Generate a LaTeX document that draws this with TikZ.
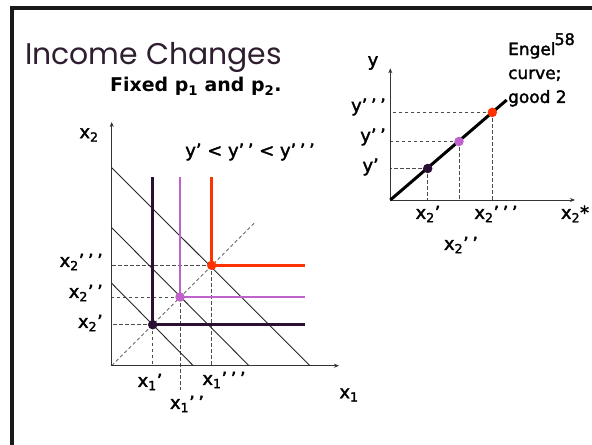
\documentclass[tikz,border=0pt]{standalone}
\usepackage{fontspec}
\setmainfont{DejaVu Sans}
\newfontfamily\titlefont{Poppins}
\newfontfamily\lblfont{DejaVu Sans}[FakeBold=2]
\usetikzlibrary{positioning,arrows.meta}
\definecolor{inkdark}{HTML}{2A1033}
\definecolor{inkpurple}{HTML}{BF62C9}
\definecolor{inkred}{HTML}{FF3300}
\definecolor{titleink}{HTML}{2E1E30}
\tikzset{
  axis/.style   = {-{Stealth[length=5bp,width=4bp]}, line width=0.8bp, draw=black!80},
  budget/.style = {line width=0.9bp, draw=black!85},
  guide/.style  = {dash pattern=on 3.5bp off 2.5bp, line width=0.7bp, draw=black!70},
  bundle/.style = {line width=2.6bp},
  dot/.style    = {circle, inner sep=0pt, minimum size=9.5bp},
  lbl/.style    = {font=\lblfont\fontsize{18}{20}\selectfont, inner sep=1bp},
}
\newcommand{\qx}[2]{x\textsubscript{#1}#2}
\newcommand{\pone}{’}
\newcommand{\ptwo}{’\kern3.5bp’}
\newcommand{\pthree}{’\kern3.5bp’\kern3.5bp’}

\begin{document}
\begin{tikzpicture}[x=1bp,y=-1bp]
  \useasboundingbox (0,0) rectangle (592,445);
  % slide frame and headings
  \draw[line width=3.5bp, draw=black!90] (12,445) -- (12,8) -- (592,8);
  \node[anchor=base west, inner sep=0, text=titleink,
        font=\titlefont\fontsize{30}{34}\selectfont] (title) at (25,65) {Income Changes};
  \node[anchor=base west, inner sep=0, font=\bfseries\fontsize{19}{21}\selectfont]
        (fixed) at (110,92) {Fixed p\textsubscript{1} and p\textsubscript{2}.};
  \node[anchor=base east, inner sep=0, font=\lblfont\fontsize{16}{18}\selectfont] (slideno) at (575,45) {58};

  % left panel
  \coordinate (O) at (111.7,365.7);
  \coordinate (A) at (152.7,324.7);
  \coordinate (B) at (180,297);
  \coordinate (C) at (211.7,265.3);
  \coordinate (Bdown) at (180,390);

  \draw[guide] (O) -- (255.7,221.7);
  \draw[guide] (A) -- (A |- O);  \draw[guide] (A) -- (A -| O);
  \draw[guide] (B) -- (Bdown);   \draw[guide] (B) -- (B -| O);
  \draw[guide] (C) -- (C |- O);  \draw[guide] (C) -- (C -| O);

  \draw[axis] (O) -- (111.7,122);
  \draw[axis] (O) -- (339,365.7);
  \draw[budget] (111.7,283.3) -- (193.3,365.7);
  \draw[budget] (111.7,227.7) -- (249,365.7);
  \draw[budget] (111.7,167.7) -- (310,365.7);

  \draw[bundle, inkdark]   (152.7,177.3) |- (305,324.7);
  \draw[bundle, inkpurple] (180,177.3) |- (305,297);
  \draw[bundle, inkred]    (211.7,177.3) |- (305,265.3);
  \node[dot, fill=inkdark]   (ptA) at (A) {};
  \node[dot, fill=inkpurple] (ptB) at (B) {};
  \node[dot, fill=inkred]    (ptC) at (C) {};

  \node[lbl] (lx2) at (89,135) {\qx{2}{}};
  \node[lbl] (order) at (250,152) {y\pone{} < y\ptwo{} < y\pthree};
  \node[lbl, anchor=east] (lx2c) at (104,262) {\qx{2}{\pthree}};
  \node[lbl, anchor=east] (lx2b) at (104,293) {\qx{2}{\ptwo}};
  \node[lbl, anchor=east] (lx2a) at (104,323) {\qx{2}{\pone}};
  \node[lbl] (lx1a) at (150,382) {\qx{1}{\pone}};
  \node[lbl] (lx1c) at (224,380) {\qx{1}{\pthree}};
  \node[lbl] (lx1b) at (187,404) {\qx{1}{\ptwo}};
  \node[lbl] (lx1) at (349,395) {\qx{1}{}};

  % right panel: Engel curve
  \coordinate (E0) at (390.3,200);
  \coordinate (D) at (427.7,168.5);
  \coordinate (E) at (459,141.5);
  \coordinate (F) at (492.3,112.4);

  \draw[guide] (D) -- (D |- E0);  \draw[guide] (D) -- (D -| E0);
  \draw[guide] (E) -- (E |- E0);  \draw[guide] (E) -- (E -| E0);
  \draw[guide] (F) -- (F |- E0);  \draw[guide] (F) -- (F -| E0);
  \draw[axis] (E0) -- (390.3,68.3);
  \draw[axis] (E0) -- (575,200);
  \draw[line width=3bp] (E0) -- (506.7,100);
  \node[dot, fill=inkdark]   (ptD) at (D) {};
  \node[dot, fill=inkpurple] (ptE) at (E) {};
  \node[dot, fill=inkred]    (ptF) at (F) {};

  \node[lbl] (ly) at (373,63) {y};
  \node[lbl, anchor=east] (lyc) at (387,107) {y\pthree};
  \node[lbl, anchor=east] (lyb) at (387,137) {y\ptwo};
  \node[lbl, anchor=east] (lya) at (380,167) {y\pone};
  \node[lbl] (rx2a) at (428,214) {\qx{2}{\pone}};
  \node[lbl] (rx2c) at (496,214) {\qx{2}{\pthree}};
  \node[lbl] (rx2b) at (461,245) {\qx{2}{\ptwo}};
  \node[lbl] (rx2s) at (575,214) {\qx{2}{*}};
  \node[lbl, anchor=north west, align=left, font=\lblfont\fontsize{17}{24}\selectfont]
        (engel) at (507,41) {Engel\\curve;\\good 2};
\end{tikzpicture}
\end{document}
